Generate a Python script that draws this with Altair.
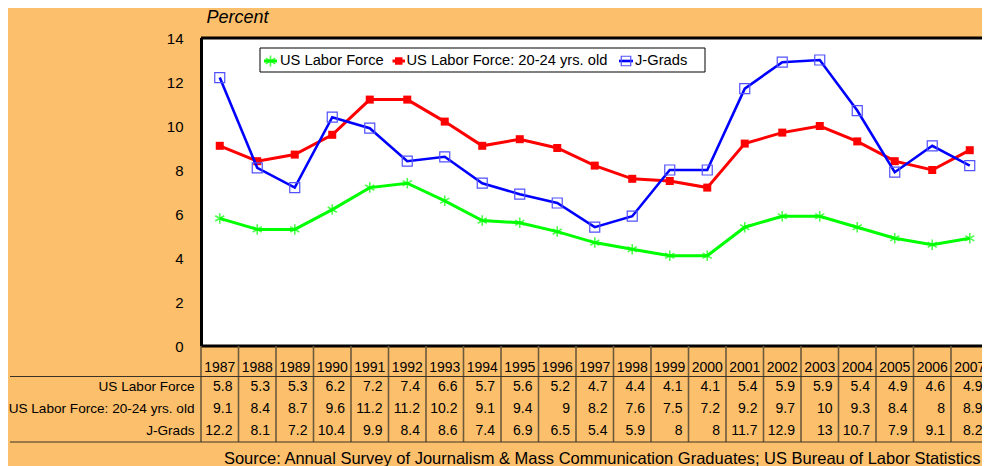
import altair as alt
import pandas as pd

# ---------------- data ----------------
years = list(range(1987, 2008))
us_labor_force = [5.8, 5.3, 5.3, 6.2, 7.2, 7.4, 6.6, 5.7, 5.6, 5.2, 4.7, 4.4, 4.1, 4.1, 5.4, 5.9, 5.9, 5.4, 4.9, 4.6, 4.9]
us_labor_20_24 = [9.1, 8.4, 8.7, 9.6, 11.2, 11.2, 10.2, 9.1, 9.4, 9, 8.2, 7.6, 7.5, 7.2, 9.2, 9.7, 10, 9.3, 8.4, 8, 8.9]
j_grads = [12.2, 8.1, 7.2, 10.4, 9.9, 8.4, 8.6, 7.4, 6.9, 6.5, 5.4, 5.9, 8, 8, 11.7, 12.9, 13, 10.7, 7.9, 9.1, 8.2]
series_names = ["US Labor Force", "US Labor Force: 20-24 yrs. old", "J-Grads"]
y_ticks = [0, 2, 4, 6, 8, 10, 12, 14]
y_title = "Percent"
source_note = ("Source: Annual Survey of Journalism & Mass Communication Graduates; "
               "US Bureau of Labor Statistics")

series_values = [us_labor_force, us_labor_20_24, j_grads]
df = pd.DataFrame(
    [{"year": y, "series": s, "value": v}
     for s, vals in zip(series_names, series_values)
     for y, v in zip(years, vals)]
)
years_df = pd.DataFrame({"year": years})

# ---------------- layout / style ----------------
FONT = "Liberation Sans"
BG = "#FCBF6B"
W, H = 781, 308
COL_W = 37.5
x_scale = alt.Scale(domain=[1986.5, 1986.5 + W / COL_W], nice=False, zero=False)
y_scale = alt.Scale(domain=[0, 14], nice=False)

y_axis = alt.Axis(values=y_ticks, domain=False, ticks=False, tickSize=0, grid=False,
                  labelFontSize=15, labelColor="black", labelPadding=18,
                  title=y_title, titleAngle=0, titleAlign="left", titleBaseline="middle",
                  titleX=5, titleY=-21, titleFontSize=18, titleFontStyle="italic",
                  titleFontWeight="normal", titleColor="black")

X = alt.X("year:Q", scale=x_scale, axis=None)
Y = alt.Y("value:Q", scale=y_scale, axis=y_axis)

line_colors = ["#00FF00", "#FF0000", "#0000FF"]
line_widths = [3, 3, 2.6]
ASTERISK = "M0,-1L0,1M-0.87,-0.5L0.87,0.5M-0.87,0.5L0.87,-0.5"
marker_specs = [
    dict(shape=ASTERISK, size=110, filled=False, stroke="#00FF00", strokeWidth=1.6),
    dict(shape="square", size=64, filled=True, fill="#FF0000", stroke="#FF0000", strokeWidth=0, opacity=1),
    dict(shape="square", size=100, filled=False, stroke="#5050FF", strokeWidth=1.2, opacity=1),
]

layers = []

# plot borders (top, left, bottom; the right edge is cut off like the original)
layers.append(alt.Chart(pd.DataFrame({"a": [0]})).mark_rule(color="black", strokeWidth=3).encode(
    x=alt.value(0), x2=alt.value(W + 5), y=alt.value(0)))
layers.append(alt.Chart(pd.DataFrame({"a": [0]})).mark_rule(color="black", strokeWidth=3).encode(
    x=alt.value(0.5), y=alt.value(0), y2=alt.value(H)))
layers.append(alt.Chart(pd.DataFrame({"a": [0]})).mark_rule(color="black", strokeWidth=3).encode(
    x=alt.value(0), x2=alt.value(W + 5), y=alt.value(H)))

# series lines + markers
for name, col, lw, mk in zip(series_names, line_colors, line_widths, marker_specs):
    sub = alt.Chart(df).transform_filter(alt.datum.series == name)
    layers.append(sub.mark_line(color=col, strokeWidth=lw).encode(x=X, y=Y))
    layers.append(sub.mark_point(**mk).encode(x=X, y=Y))

# legend (drawn)
LEG_Y = 23
layers.append(alt.Chart(pd.DataFrame({"a": [0]})).mark_rect(fill="white", stroke="black", strokeWidth=1).encode(
    x=alt.value(59), x2=alt.value(504), y=alt.value(10), y2=alt.value(34)))
legend_pos = [(63, 76, 79), (191.5, 204, 205.5), (418, 432, 434)]
legend_marker = [
    dict(shape=ASTERISK, size=121, filled=False, stroke="#00FF00", strokeWidth=1.6),
    dict(shape="square", size=56, filled=True, fill="#FF0000", strokeWidth=0, opacity=1),
    dict(shape="square", size=90, filled=False, stroke="#5050FF", strokeWidth=1.2, opacity=1),
]
for name, col, lw, mk, (x0, x1, xt) in zip(series_names, line_colors, line_widths, legend_marker, legend_pos):
    one = alt.Chart(pd.DataFrame({"label": [name]}))
    layers.append(one.mark_rule(color=col, strokeWidth=lw).encode(
        x=alt.value(x0), x2=alt.value(x1), y=alt.value(LEG_Y)))
    layers.append(one.mark_point(**mk).encode(x=alt.value((x0 + x1) / 2), y=alt.value(LEG_Y)))
    layers.append(one.mark_text(align="left", baseline="middle", fontSize=14.7, color="black").encode(
        x=alt.value(xt), y=alt.value(LEG_Y), text="label:N"))

# data table
TABLE_LINE = "#3a3226"
SEP = "#6b5a3c"
layers.append(alt.Chart(years_df).transform_calculate(xs="datum.year - 0.5").mark_rule(
    color=SEP, strokeWidth=1.6).encode(
    x=alt.X("xs:Q", scale=x_scale, axis=None), y=alt.value(H), y2=alt.value(404)))
for yy in [338.5, 404]:
    layers.append(alt.Chart(pd.DataFrame({"a": [0]})).mark_rule(color=TABLE_LINE, strokeWidth=1).encode(
        x=alt.value(-191), x2=alt.value(W + 5), y=alt.value(yy)))
layers.append(alt.Chart(years_df).mark_text(align="center", baseline="middle", fontSize=14, color="black").encode(
    x=X, y=alt.value(329.5), text="year:N"))

row_y = [348.7, 371, 392.7]
for name, ry in zip(series_names, row_y):
    layers.append(alt.Chart(pd.DataFrame({"label": [name]})).mark_text(
        align="right", baseline="middle", fontSize=13.6, color="black").encode(
        x=alt.value(-6.5), y=alt.value(ry), text="label:N"))
    layers.append(alt.Chart(df).transform_filter(alt.datum.series == name).transform_calculate(
        xr="datum.year + 0.5").mark_text(align="right", baseline="middle", fontSize=14, dx=-6,
                                         color="black").encode(
        x=alt.X("xr:Q", scale=x_scale, axis=None), y=alt.value(ry), text=alt.Text("value:Q")))

# source note
layers.append(alt.Chart(pd.DataFrame({"label": [source_note]})).mark_text(
    align="right", baseline="middle", fontSize=16.5, color="black").encode(
    x=alt.value(779.5), y=alt.value(420.5), text="label:N"))

chart = alt.layer(*layers).properties(
    width=W, height=H, background=BG,
    padding={"left": 193, "top": 30, "right": 0, "bottom": 120},
    autosize=alt.AutoSizeParams(type="none"),
).configure(font=FONT, view=alt.ViewConfig(stroke=None, fill="white"))

chart.save("out.html", embed_options={"renderer": "svg", "actions": False})
